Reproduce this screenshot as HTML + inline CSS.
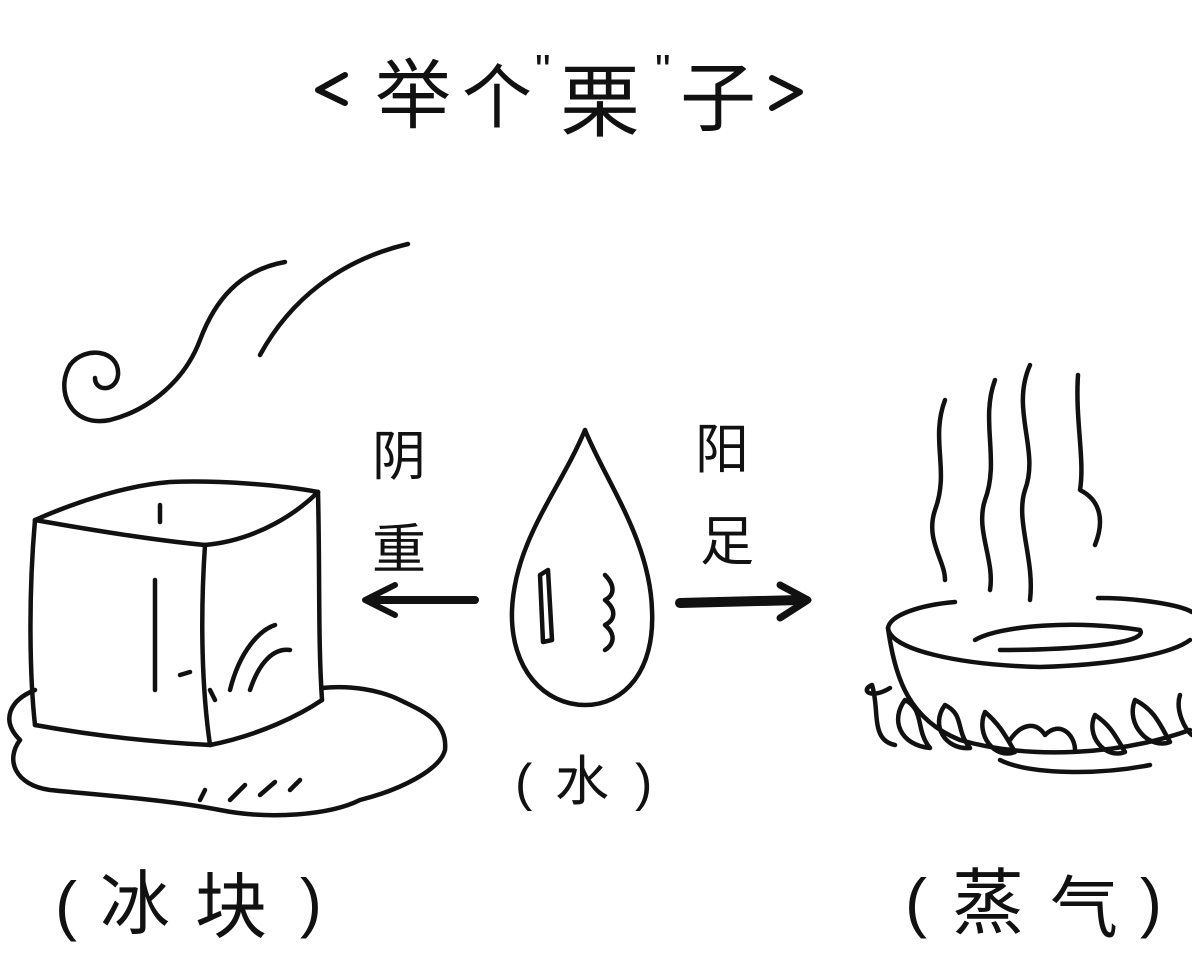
<!DOCTYPE html>
<html><head><meta charset="utf-8"><style>
html,body{margin:0;padding:0;background:#fff;}
svg{display:block;}
text{font-family:"Liberation Sans","Noto Sans CJK SC","WenQuanYi Zen Hei",sans-serif;fill:#111;}
</style></head><body>
<svg width="1192" height="966" viewBox="0 0 1192 966" xmlns="http://www.w3.org/2000/svg">
<rect width="1192" height="966" fill="#fff"/>
<g fill="none" stroke="#111" stroke-width="4.5" stroke-linecap="round" stroke-linejoin="round">
<path d="M345 75 L318 90 L345 103" stroke-width="6"/>
<path d="M772 78 L800 92 L772 108" stroke-width="6"/>
<path d="M408 244 C340 260 290 300 260 355"/>
<path d="M285 262 C240 270 215 300 200 340 C185 380 150 410 110 420 C70 428 55 390 70 365 C85 345 120 350 118 375 C116 392 95 392 95 378"/>
<path d="M35 520 C80 500 130 485 170 482 C220 480 280 485 318 492"/>
<path d="M35 520 C80 528 150 540 205 545 C260 540 300 510 318 492"/>
<path d="M35 520 C28 600 30 680 35 725"/>
<path d="M205 545 C200 620 202 690 210 745"/>
<path d="M318 492 C320 580 318 640 322 700"/>
<path d="M35 725 C90 735 150 742 210 745 C260 735 300 715 322 700"/>
<path d="M160 505 L160 522"/>
<path d="M155 580 L155 690"/>
<path d="M230 690 C240 650 260 630 275 625"/>
<path d="M250 690 C260 660 275 648 290 650"/>
<path d="M180 675 L190 672"/>
<path d="M210 690 L215 700"/>
<path d="M35 690 C10 700 0 720 20 740 C5 760 15 785 50 790 C100 795 170 800 220 810 C270 820 330 815 360 800 C400 790 440 770 445 750 C448 720 420 710 400 700 C380 690 350 685 322 688"/>
<path d="M200 800 L205 790"/>
<path d="M230 800 L245 785"/>
<path d="M260 795 L275 782"/>
<path d="M290 790 L300 780"/>
<path d="M585 430 C560 490 515 540 512 610 C510 670 545 705 585 705 C625 705 655 670 652 610 C650 540 605 480 585 430 Z"/>
<path d="M540 575 L548 570 L552 640 L543 642 Z"/>
<path d="M605 575 C615 585 615 595 605 600 C617 610 615 620 605 625 C617 635 613 645 605 650"/>
<path d="M475 600 L370 600" stroke-width="8"/>
<path d="M395 585 L365 600 L395 615" stroke-width="6"/>
<path d="M680 603 L800 600" stroke-width="10"/>
<path d="M780 585 L808 600 L780 618" stroke-width="7"/>
<path d="M945 400 C930 440 950 470 935 510 C925 540 945 560 945 580"/>
<path d="M995 380 C980 420 1000 460 985 500 C975 530 995 560 990 590"/>
<path d="M1030 365 C1010 410 1040 450 1025 490 C1015 520 1035 560 1030 600"/>
<path d="M1078 375 C1075 420 1085 460 1080 490 C1100 500 1105 520 1095 545"/>
<path d="M955 602 C920 605 890 615 888 628 C890 650 960 665 1040 667 C1110 665 1170 655 1190 640"/>
<path d="M1098 598 C1140 598 1180 605 1192 612"/>
<path d="M888 628 C895 680 910 720 960 740 C1030 760 1120 755 1190 730"/>
<path d="M975 640 C1000 625 1080 620 1140 630 C1150 645 1060 650 1000 650"/>
<path d="M890 688 C870 700 860 690 872 685 C880 710 870 740 895 745"/>
<path d="M905 700 C890 720 900 745 930 748 C915 730 925 710 905 700"/>
<path d="M945 705 C930 725 945 750 970 748 C955 730 965 715 945 705"/>
<path d="M985 712 C975 735 995 760 1015 752 C1005 735 1000 725 985 712"/>
<path d="M1010 740 C1020 725 1035 720 1045 735 C1060 720 1075 735 1075 750"/>
<path d="M1095 715 C1085 735 1105 760 1125 752 C1115 735 1110 725 1095 715"/>
<path d="M1135 700 C1125 725 1150 750 1170 742 C1160 725 1155 710 1135 700"/>
<path d="M1180 695 C1175 710 1185 730 1192 735"/>
<path d="M1000 760 C1030 775 1100 775 1150 765"/>
</g>
<text x="375" y="122" font-size="76">举</text>
<text x="462" y="122" font-size="70">个</text>
<text x="535" y="85" font-size="44">"</text>
<text x="560" y="130" font-size="80">栗</text>
<text x="655" y="85" font-size="44">"</text>
<text x="680" y="125" font-size="76">子</text>
<text x="372" y="475" font-size="54">阴</text>
<text x="372" y="568" font-size="54">重</text>
<text x="695" y="468" font-size="54">阳</text>
<text x="700" y="560" font-size="54">足</text>
<text x="515" y="800" font-size="52">(</text>
<text x="555" y="800" font-size="54">水</text>
<text x="635" y="800" font-size="52">)</text>
<text x="55" y="928" font-size="66">(</text>
<text x="100" y="928" font-size="70">冰</text>
<text x="195" y="932" font-size="72">块</text>
<text x="300" y="925" font-size="66">)</text>
<text x="905" y="925" font-size="66">(</text>
<text x="952" y="928" font-size="72">蒸</text>
<text x="1050" y="932" font-size="68">气</text>
<text x="1140" y="925" font-size="66">)</text>
</svg>
</body></html>
